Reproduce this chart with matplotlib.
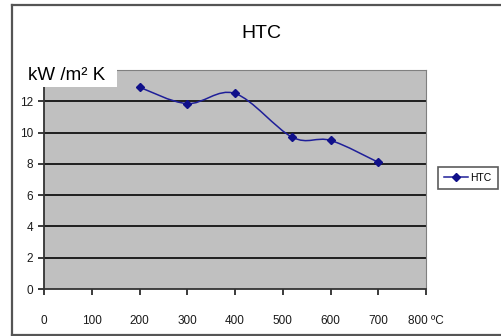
import matplotlib
matplotlib.use("Agg")
import matplotlib.pyplot as plt
from matplotlib.path import Path
from matplotlib.patches import PathPatch, Rectangle
from matplotlib.lines import Line2D

plt.rcParams['font.family'] = ['Liberation Sans', 'DejaVu Sans']

temp = [200, 300, 400, 520, 600, 700]
htc = [12.9, 11.85, 12.5, 9.7, 9.5, 8.1]
xticks = [0, 100, 200, 300, 400, 500, 600, 700, 800]
xticklabels = ['0', '100', '200', '300', '400', '500', '600', '700', '800 ºC']
yticks = [0, 2, 4, 6, 8, 10, 12]

W, H = 501, 336
fig = plt.figure(figsize=(W / 100, H / 100), dpi=100)

# outer chart border (no right edge visible)
for xs, ys in [((12 / W, 1.01), (1 - 5 / H, 1 - 5 / H)),
               ((12 / W, 12 / W), (1 / H, 1 - 5 / H)),
               ((12 / W, 1.01), (1 / H, 1 / H))]:
    fig.add_artist(Line2D(xs, ys, color='#555555', lw=1.6))

ax = fig.add_axes([44 / W, (H - 289) / H, (426 - 44) / W, (289 - 70) / H])
ax.set_facecolor('#c0c0c0')
ax.set_xlim(0, 800)
ax.set_ylim(0, 14)
for y in yticks[1:] + [14]:
    ax.axhline(y, color='#111111' if y != 14 else '#808080', lw=1.3, zorder=1)

ax.spines['top'].set_color('#808080')
ax.spines['right'].set_color('#808080')
ax.spines['left'].set_color('#333333')
ax.spines['bottom'].set_color('#333333')
ax.spines['left'].set_linewidth(1.3)
ax.spines['bottom'].set_linewidth(1.3)

ax.set_xticks(xticks)
ax.set_xticklabels(xticklabels)
ax.set_yticks(yticks)
ax.tick_params(axis='x', length=4, width=1.2, pad=15, labelsize=8.5, colors='#1a1a1a')
ax.tick_params(axis='y', length=4, width=1.2, pad=4, labelsize=8.5, colors='#1a1a1a')

# smoothed line (Excel-style), drawn as cubic Bezier segments through the points
pts = list(zip(temp, htc))
verts = [pts[0]]
codes = [Path.MOVETO]
for i in range(len(pts) - 1):
    p0 = pts[i - 1] if i > 0 else pts[i]
    p1 = pts[i]
    p2 = pts[i + 1]
    p3 = pts[i + 2] if i + 2 < len(pts) else pts[i + 1]
    c1 = (p1[0] + (p2[0] - p0[0]) / 6, p1[1] + (p2[1] - p0[1]) / 6)
    c2 = (p2[0] - (p3[0] - p1[0]) / 6, p2[1] - (p3[1] - p1[1]) / 6)
    verts += [c1, c2, p2]
    codes += [Path.CURVE4] * 3
ax.add_patch(PathPatch(Path(verts, codes), fill=False, edgecolor='#1f1f99',
                       lw=1.1, transform=ax.transData, zorder=3))
ax.plot(temp, htc, linestyle='none', marker='D', ms=4.5, color='#10108a', zorder=4)

handle = Line2D([], [], color='#1f1f99', lw=1.1, marker='D', ms=4.5,
                markerfacecolor='#10108a', markeredgecolor='#10108a')
leg = fig.legend([handle], ['HTC'], loc='center', bbox_to_anchor=(468 / W, 1 - 178 / H),
                 fontsize=7.5, frameon=True, fancybox=False, handlelength=2.3,
                 handletextpad=0.2, borderpad=0.6, borderaxespad=0)
leg.get_frame().set_edgecolor('#333333')
leg.get_frame().set_linewidth(1.2)

fig.text(261 / W, 1 - 33 / H, 'HTC', ha='center', va='center', fontsize=14)

# axis unit label with white background covering the top-left of the plot area
fig.add_artist(Rectangle((24 / W, 1 - 87 / H), (117 - 24) / W, 27 / H,
                         transform=fig.transFigure, facecolor='white',
                         edgecolor='none', zorder=5))
fig.text(28 / W, 1 - 75 / H, 'kW /m² K', ha='left', va='center', fontsize=13.5,
         zorder=6)

fig.savefig('out.png', dpi=100)
